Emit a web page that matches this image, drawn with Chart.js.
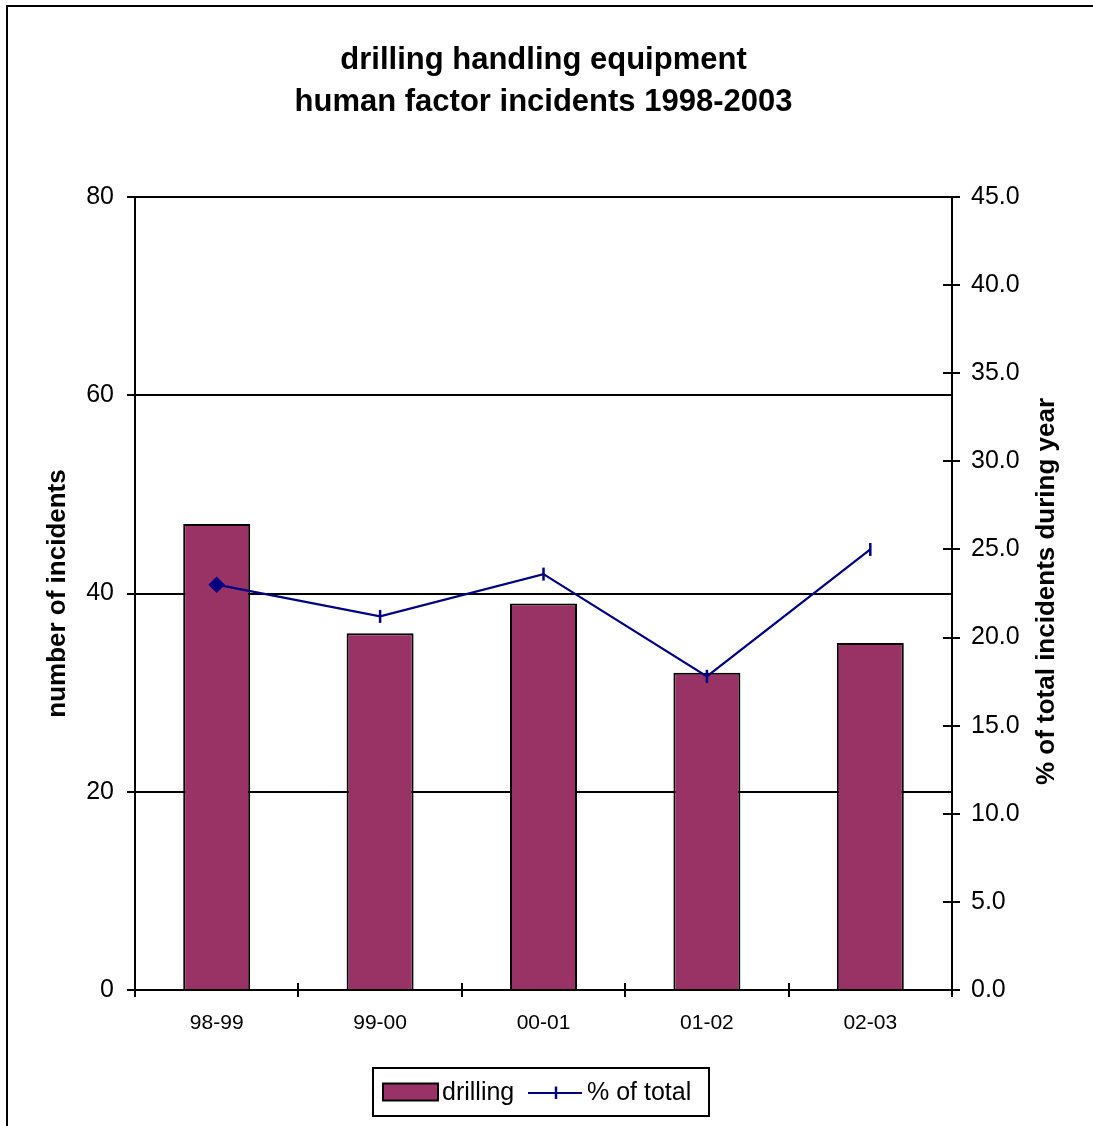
<!DOCTYPE html>
<html>
<head>
<meta charset="utf-8">
<script src="https://cdn.jsdelivr.net/npm/chart.js@4"></script>
<style>
html,body{margin:0;padding:0;background:#fff;overflow:hidden;}
#wrap{position:absolute;left:0;top:0;width:1093px;height:1126px;}
</style>
</head>
<body>
<div id="wrap"><canvas id="c" width="1093" height="1126"></canvas></div>
<script>
const categories = ['98-99', '99-00', '00-01', '01-02', '02-03'];
const drillingCounts = [47, 36, 39, 32, 35];
const pctOfTotal = [23.0, 21.2, 23.6, 17.8, 25.0];
const titleLines = ['drilling handling equipment', 'human factor incidents 1998-2003'];
const leftAxisTitle = 'number of incidents';
const rightAxisTitle = '% of total incidents during year';
const seriesNames = ['drilling', '% of total'];

const FONT = "'Liberation Sans', Arial, Helvetica, sans-serif";
const BAR_COLOR = '#993366';
const LINE_COLOR = '#000080';

const decor = {
  id: 'decor',
  beforeDraw(chart) {
    const ctx = chart.ctx;
    ctx.save();
    ctx.fillStyle = '#fff';
    ctx.fillRect(0, 0, chart.width, chart.height);
    ctx.strokeStyle = '#000';
    ctx.lineWidth = 2;
    ctx.strokeRect(7, 6, 1200, 1200);
    ctx.restore();
  },
  afterDraw(chart) {
    const ctx = chart.ctx;
    const ca = chart.chartArea;
    const xs = chart.scales.x, y1 = chart.scales.y1;
    ctx.save();
    ctx.strokeStyle = '#000';
    ctx.lineWidth = 2;
    // inward tick marks on x axis (category boundaries)
    const step = xs.getPixelForTick(1) - xs.getPixelForTick(0);
    for (let i = 0; i <= categories.length; i++) {
      const px = Math.round(xs.getPixelForTick(0) - step / 2 + i * step);
      ctx.beginPath(); ctx.moveTo(px, ca.bottom); ctx.lineTo(px, ca.bottom - 7); ctx.stroke();
    }
    // inward tick marks on right axis
    y1.ticks.forEach((t) => {
      const py = Math.round(y1.getPixelForValue(t.value));
      ctx.beginPath(); ctx.moveTo(ca.right, py); ctx.lineTo(ca.right - 9, py); ctx.stroke();
    });
    // right axis title, reading bottom to top
    ctx.fillStyle = '#000';
    ctx.font = 'bold 26px ' + FONT;
    ctx.textAlign = 'center';
    ctx.textBaseline = 'middle';
    ctx.translate(1047, (ca.top + ca.bottom) / 2 - 2);
    ctx.rotate(-Math.PI / 2);
    ctx.fillText(rightAxisTitle, 0, 0);
    ctx.restore();

    // legend
    ctx.save();
    const bx = 373, by = 1068, bw = 336, bh = 48;
    ctx.fillStyle = '#fff';
    ctx.fillRect(bx, by, bw, bh);
    ctx.strokeStyle = '#000';
    ctx.lineWidth = 2;
    ctx.strokeRect(bx, by, bw, bh);
    const cy = by + bh / 2;
    ctx.fillStyle = BAR_COLOR;
    ctx.fillRect(383, cy - 8.5, 55, 17);
    ctx.lineWidth = 2;
    ctx.strokeRect(383, cy - 8.5, 55, 17);
    ctx.fillStyle = '#000';
    ctx.font = '25px ' + FONT;
    ctx.textAlign = 'left';
    ctx.textBaseline = 'middle';
    ctx.fillText(chart.data.datasets[1].label, 442, cy + 1);
    ctx.strokeStyle = LINE_COLOR;
    ctx.lineWidth = 2;
    ctx.beginPath(); ctx.moveTo(528, cy + 1); ctx.lineTo(582, cy + 1); ctx.stroke();
    ctx.lineWidth = 2.5;
    ctx.beginPath(); ctx.moveTo(556, cy - 5.5); ctx.lineTo(556, cy + 7); ctx.stroke();
    ctx.fillText(chart.data.datasets[0].label, 587, cy + 1);
    ctx.restore();
  }
};

new Chart(document.getElementById('c'), {
  data: {
    labels: categories,
    datasets: [
      {
        type: 'line',
        label: seriesNames[1],
        data: pctOfTotal,
        yAxisID: 'y1',
        order: 0,
        borderColor: LINE_COLOR,
        backgroundColor: LINE_COLOR,
        borderWidth: 2.2,
        tension: 0,
        fill: false,
        pointStyle: ['rectRot', 'line', 'line', 'line', 'line'],
        pointRotation: [0, 90, 90, 90, 90],
        pointRadius: 6.5,
        pointBorderWidth: 2.5,
        pointBackgroundColor: LINE_COLOR,
        pointBorderColor: LINE_COLOR
      },
      {
        type: 'bar',
        label: seriesNames[0],
        data: drillingCounts,
        yAxisID: 'y',
        order: 1,
        backgroundColor: BAR_COLOR,
        borderColor: '#000',
        borderWidth: 2,
        barPercentage: 0.41,
        categoryPercentage: 1.0
      }
    ]
  },
  options: {
    responsive: false,
    animation: false,
    devicePixelRatio: 1,
    layout: { padding: { left: 0, right: 6, top: 0, bottom: 86 } },
    plugins: {
      legend: { display: false },
      tooltip: { enabled: false },
      title: {
        display: true,
        text: titleLines,
        color: '#000',
        font: { family: FONT, size: 31, weight: 'bold', lineHeight: 42 / 31 },
        padding: { top: 39, bottom: 74 }
      }
    },
    scales: {
      x: {
        type: 'category',
        offset: true,
        afterFit(s) { s.height = 50; },
        grid: { offset: true, drawOnChartArea: false, color: '#000', lineWidth: 2, tickLength: 7 },
        border: { display: true, color: '#000', width: 2 },
        ticks: { color: '#000', font: { family: FONT, size: 21 }, padding: 14, maxRotation: 0 }
      },
      y: {
        position: 'left',
        min: 0, max: 80,
        afterFit(s) { s.width = 135; },
        ticks: { stepSize: 20, color: '#000', font: { family: FONT, size: 25 }, padding: 13 },
        grid: { color: '#000', lineWidth: 2, tickLength: 8, drawOnChartArea: true },
        border: { display: true, color: '#000', width: 2 },
        title: {
          display: true,
          text: leftAxisTitle,
          color: '#000',
          font: { family: FONT, size: 26, weight: 'bold' },
          padding: { top: 42, bottom: 0 }
        }
      },
      y1: {
        position: 'right',
        min: 0, max: 45,
        afterFit(s) { s.width = 135; },
        ticks: { stepSize: 5, color: '#000', font: { family: FONT, size: 25 }, padding: 11,
                 callback: (v) => Number(v).toFixed(1) },
        grid: { drawOnChartArea: false, color: '#000', lineWidth: 2, tickLength: 8 },
        border: { display: true, color: '#000', width: 2 }
      }
    }
  },
  plugins: [decor]
});
</script>
</body>
</html>
